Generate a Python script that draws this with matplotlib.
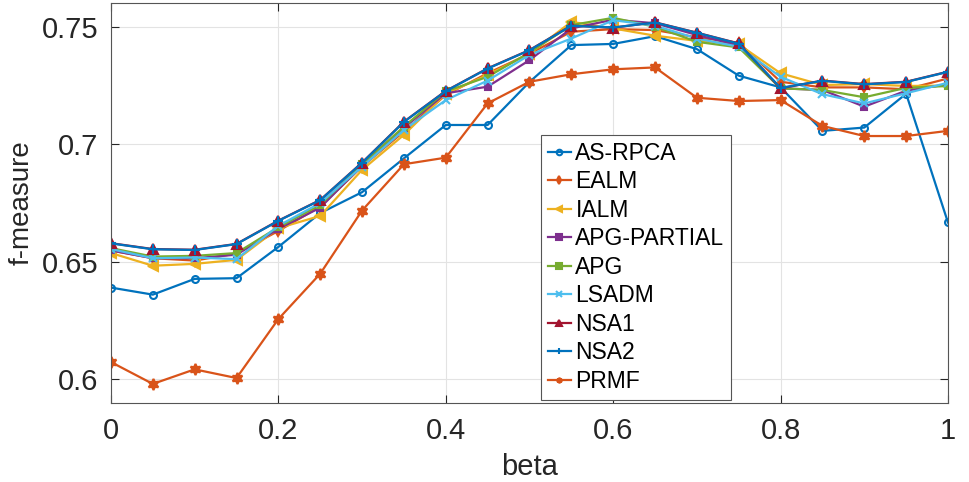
import matplotlib
matplotlib.use("Agg")
import matplotlib.pyplot as plt
import numpy as np

plt.rcParams['font.family'] = ['Liberation Sans', 'DejaVu Sans']

beta = [0.0, 0.05, 0.1, 0.15, 0.2, 0.25, 0.3, 0.35, 0.4, 0.45, 0.5,
        0.55, 0.6, 0.65, 0.7, 0.75, 0.8, 0.85, 0.9, 0.95, 1.0]

as_rpca = [0.6390, 0.6360, 0.6427, 0.6430, 0.6563, 0.6707, 0.6796, 0.6940, 0.7082, 0.7082, 0.7265,
           0.7422, 0.7427, 0.7460, 0.7405, 0.7292, 0.7242, 0.7057, 0.7071, 0.7215, 0.6667]
ealm = [0.6548, 0.6515, 0.6505, 0.6535, 0.6631, 0.6735, 0.6905, 0.7054, 0.7210, 0.7302, 0.7385,
        0.7479, 0.7490, 0.7486, 0.7455, 0.7432, 0.7266, 0.7242, 0.7242, 0.7234, 0.7280]
ialm = [0.6537, 0.6483, 0.6491, 0.6508, 0.6643, 0.6695, 0.6891, 0.7040, 0.7215, 0.7295, 0.7385,
        0.7521, 0.7493, 0.7462, 0.7440, 0.7425, 0.7302, 0.7252, 0.7256, 0.7248, 0.7250]
apg_partial = [0.6548, 0.6515, 0.6515, 0.6530, 0.6640, 0.6730, 0.6910, 0.7070, 0.7217, 0.7245, 0.7358,
               0.7493, 0.7530, 0.7515, 0.7465, 0.7420, 0.7238, 0.7231, 0.7160, 0.7228, 0.7255]
apg = [0.6558, 0.6522, 0.6525, 0.6537, 0.6647, 0.6742, 0.6915, 0.7075, 0.7225, 0.7287, 0.7390,
       0.7507, 0.7538, 0.7500, 0.7436, 0.7412, 0.7238, 0.7231, 0.7200, 0.7240, 0.7248]
lsadm = [0.6554, 0.6515, 0.6518, 0.6511, 0.6653, 0.6750, 0.6905, 0.7061, 0.7188, 0.7271, 0.7380,
         0.7450, 0.7528, 0.7505, 0.7450, 0.7415, 0.7287, 0.7213, 0.7174, 0.7217, 0.7262]
nsa1 = [0.6579, 0.6554, 0.6551, 0.6576, 0.6675, 0.6763, 0.6922, 0.7096, 0.7227, 0.7323, 0.7401,
        0.7505, 0.7496, 0.7519, 0.7475, 0.7429, 0.7238, 0.7271, 0.7256, 0.7266, 0.7309]
nsa2 = [0.6578, 0.6553, 0.6550, 0.6575, 0.6674, 0.6762, 0.6921, 0.7095, 0.7226, 0.7322, 0.7400,
        0.7504, 0.7497, 0.7518, 0.7474, 0.7428, 0.7240, 0.7270, 0.7255, 0.7265, 0.7308]
prmf = [0.6073, 0.5980, 0.6042, 0.6005, 0.6256, 0.6449, 0.6718, 0.6915, 0.6943, 0.7174, 0.7266,
        0.7298, 0.7319, 0.7327, 0.7198, 0.7184, 0.7188, 0.7078, 0.7035, 0.7035, 0.7057]

names = ['AS-RPCA', 'EALM', 'IALM', 'APG-PARTIAL', 'APG', 'LSADM', 'NSA1', 'NSA2', 'PRMF']
series = [as_rpca, ealm, ialm, apg_partial, apg, lsadm, nsa1, nsa2, prmf]
colors = ['#0072BD', '#D95319', '#EDB120', '#7E2F8E', '#77AC30', '#4DBEEE', '#A2142F', '#0072BD', '#D95319']
markers = ['o', 'd', '<', 's', 's', 'x', '^', '+', (6, 1, 0)]
fills = ['none', 'full', 'full', 'full', 'full', 'full', 'full', 'full', 'full']
msizes = [5, 5, 7, 4, 4, 6, 7.5, 7, 8]

fig = plt.figure(figsize=(9.7, 4.82), dpi=100)
ax = fig.add_axes([0.1144, 0.1645, 0.8629, 0.8287])

for name, ys, c, m, f, ms in zip(names, series, colors, markers, fills, msizes):
    ax.plot(beta, ys, color=c, marker=m, markersize=ms, linewidth=1.6,
            markerfacecolor=(c if f == 'full' else 'none'), markeredgecolor=c,
            markeredgewidth=1.5, label=name)

ax.set_xlim(0, 1)
ax.set_ylim(0.59, 0.76)
ax.set_xticks([0, 0.2, 0.4, 0.6, 0.8, 1])
ax.set_xticklabels(['0', '0.2', '0.4', '0.6', '0.8', '1'])
ax.set_yticks([0.6, 0.65, 0.7, 0.75])
ax.set_yticklabels(['0.6', '0.65', '0.7', '0.75'])
ax.grid(True, color='#e3e3e3', linewidth=0.8)
ax.set_axisbelow(True)
ax.tick_params(direction='in', top=True, right=True, labelsize=21, colors='#262626',
               length=6, width=0.8)
ax.tick_params(axis='y', pad=9)
ax.tick_params(axis='x', pad=10)
for sp in ax.spines.values():
    sp.set_color('#555555')
    sp.set_linewidth(0.8)
ax.set_xlabel('beta', fontsize=21, color='#262626', labelpad=6)
ax.set_ylabel('f-measure', fontsize=20, color='#262626', labelpad=5)

leg = ax.legend(loc='upper left', bbox_to_anchor=(541 / 970, 1 - 135 / 482),
                bbox_transform=fig.transFigure, fontsize=16.5, handlelength=1.0,
                handletextpad=0.2, labelspacing=0.24, borderpad=0.3,
                fancybox=False, framealpha=1, edgecolor='#555555', borderaxespad=0)
leg.get_frame().set_linewidth(0.8)
for h in leg.legend_handles:
    h.set_markersize(4)

fig.savefig('out.png', dpi=100)
